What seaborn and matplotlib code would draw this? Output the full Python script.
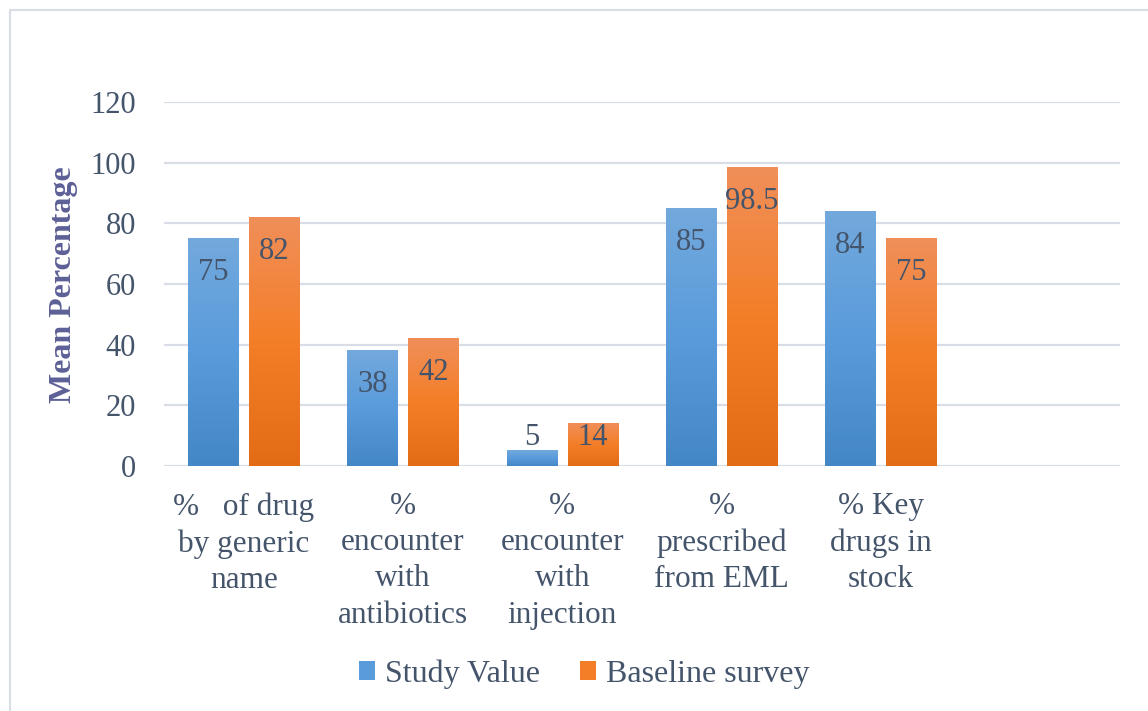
import numpy as np
import pandas as pd
import matplotlib
matplotlib.use("Agg")
import matplotlib.pyplot as plt
from matplotlib.colors import LinearSegmentedColormap
from matplotlib.patches import Patch
from matplotlib.lines import Line2D
import seaborn as sns

# ---- data ----
categories = [
    "%   of drug\nby generic\nname",
    "%\nencounter\nwith\nantibiotics",
    "%\nencounter\nwith\ninjection",
    "%\nprescribed\nfrom EML",
    "% Key\ndrugs in\nstock",
]
series_names = ["Study Value", "Baseline survey"]
study_values = [75, 38, 5, 85, 84]
baseline_values = [82, 42, 14, 98.5, 75]
value_labels_study = ["75", "38", "5", "85", "84"]
value_labels_baseline = ["82", "42", "14", "98.5", "75"]
y_ticks = [0, 20, 40, 60, 80, 100, 120]

df = pd.DataFrame({
    "category": categories * 2,
    "series": [series_names[0]] * len(categories) + [series_names[1]] * len(categories),
    "value": study_values + baseline_values,
})

# ---- style ----
sns.set_theme(style="white")
plt.rcParams["font.family"] = ["Liberation Serif", "DejaVu Serif"]
TEXT = "#44546A"
GRID = "#D9DDE5"
grad_colors = {
    series_names[0]: ["#73A9DD", "#599BDB", "#4487C7"],
    series_names[1]: ["#F08F5A", "#F47E27", "#E36B16"],
}

fig = plt.figure(figsize=(11.48, 7.11), dpi=100)
ax = fig.add_axes([164 / 1148, 1 - 466 / 711, (1120 - 164) / 1148, (466 - 102) / 711])

sns.barplot(data=df, x="category", y="value", hue="series", order=categories,
            hue_order=series_names, palette=[grad_colors[s][1] for s in series_names],
            width=0.766, gap=0.18, ax=ax, legend=False, saturation=1)

ax.set_xlim(-0.5, 5.5)
ax.set_ylim(0, 120)
ax.set_yticks(y_ticks)
ax.yaxis.grid(True, color=GRID, lw=1.6)
ax.set_axisbelow(True)
for s in ax.spines.values():
    s.set_visible(False)
ax.tick_params(axis="both", length=0, labelsize=22, colors=TEXT)
ax.tick_params(axis="y", pad=20)
ax.tick_params(axis="x", pad=19)
ax.set_xlabel("")
ax.set_ylabel("")
for lab in ax.get_xticklabels():
    lab.set_multialignment("center")
    lab.set_linespacing(1.32)
    lab.set_fontsize(22.5)

# gradient fill inside each bar
all_labels = [value_labels_study, value_labels_baseline]
all_vals = [study_values, baseline_values]
for si, cont in enumerate(ax.containers):
    cmap = LinearSegmentedColormap.from_list("g", grad_colors[series_names[si]])
    grad = np.linspace(0, 1, 256).reshape(-1, 1)
    for bi, patch in enumerate(cont.patches):
        x0 = patch.get_x()
        w = patch.get_width()
        h = patch.get_height()
        ax.imshow(grad, cmap=cmap, extent=[x0, x0 + w, 0, h], origin="upper",
                  aspect="auto", zorder=2, interpolation="bilinear")
        patch.set_visible(False)
        v = all_vals[si][bi]
        ypos = max(v - 11.2, 9.5)
        ax.text(x0 + w / 2, ypos, all_labels[si][bi], ha="center", va="center",
                fontsize=22, color=TEXT, zorder=3)

ax.set_xlim(-0.5, 5.5)
ax.set_ylim(0, 120)

# y label
fig.text(63 / 1148, 1 - 285 / 711, "Mean Percentage", rotation=90, ha="center",
         va="center", fontsize=23, fontweight="bold", color="#5D6096")

# legend
handles = [Patch(facecolor=grad_colors[s][1], edgecolor="none") for s in series_names]
fig.legend(handles, series_names, loc="center", bbox_to_anchor=(584 / 1148, 1 - 674 / 711),
           ncol=2, frameon=False, fontsize=23, labelcolor=TEXT, handlelength=0.52,
           handleheight=0.52, handletextpad=0.3, columnspacing=1.25)

# chart-area border (top and left visible)
fig.add_artist(Line2D([10 / 1148, 1.0], [1 - 10 / 711, 1 - 10 / 711], color=GRID, lw=1.5,
                      transform=fig.transFigure))
fig.add_artist(Line2D([10 / 1148, 10 / 1148], [0, 1 - 10 / 711], color=GRID, lw=1.5,
                      transform=fig.transFigure))

fig.savefig("out.png", dpi=100)
